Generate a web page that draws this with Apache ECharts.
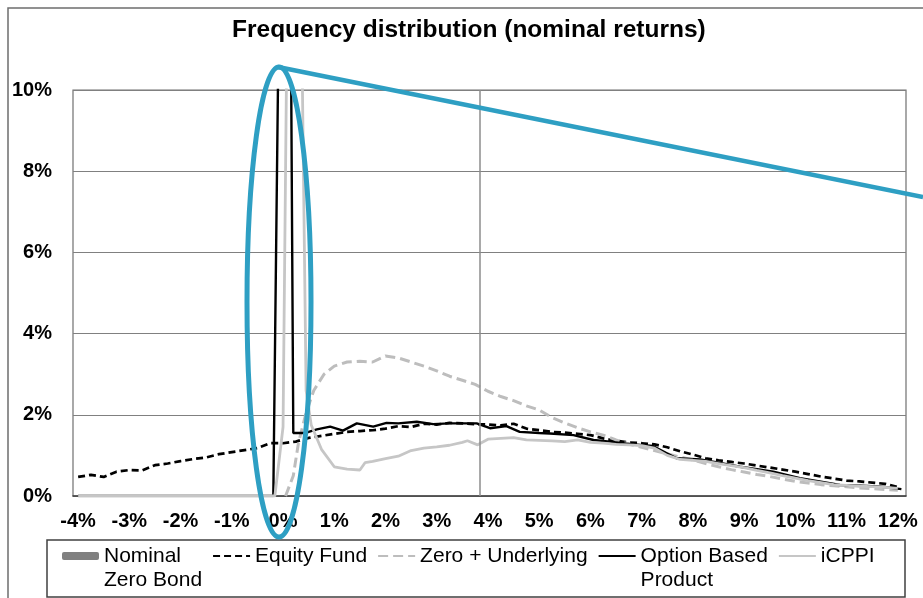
<!DOCTYPE html>
<html>
<head>
<meta charset="utf-8">
<title>Frequency distribution (nominal returns)</title>
<script src="https://cdn.jsdelivr.net/npm/echarts@6.0.0/dist/echarts.min.js"></script>
<style>
  html, body { margin: 0; padding: 0; background: #fff; }
  #chart { width: 923px; height: 598px; }
</style>
</head>
<body>
<div id="chart"></div>
<script>
// return buckets (%) used by the equity fund curve
var gridX = [-4, -3.75, -3.5, -3.25, -3, -2.75, -2.5, -2.25, -2, -1.75, -1.5, -1.25, -1, -0.75, -0.5, -0.25,
  0, 0.25, 0.5, 0.75, 1, 1.25, 1.5, 1.75, 2, 2.25, 2.5, 2.75, 3, 3.25, 3.5, 3.75, 4, 4.25, 4.5, 4.75,
  5, 5.25, 5.5, 5.75, 6, 6.25, 6.5, 6.75, 7, 7.25, 7.5, 7.75, 8, 8.25, 8.5, 8.75, 9, 9.25, 9.5, 9.75,
  10, 10.25, 10.5, 10.75, 11, 11.25, 11.5, 11.75, 12];

var equityFund = [0.47, 0.52, 0.47, 0.60, 0.64, 0.63, 0.76, 0.80, 0.86, 0.91,
  0.95, 1.03, 1.08, 1.13, 1.18, 1.30, 1.30, 1.34, 1.43, 1.48,
  1.53, 1.58, 1.60, 1.62, 1.66, 1.72, 1.70, 1.78, 1.76, 1.80,
  1.79, 1.77, 1.76, 1.74, 1.78, 1.66, 1.62, 1.58, 1.56, 1.53,
  1.50, 1.42, 1.36, 1.32, 1.30, 1.27, 1.20, 1.10, 1.02, 0.93,
  0.88, 0.84, 0.80, 0.75, 0.70, 0.65, 0.60, 0.54, 0.48, 0.43,
  0.38, 0.36, 0.33, 0.30, 0.22];

// zero + underlying
var zeroUndX = [0.05, 0.2, 0.3, 0.45, 0.6, 0.8, 1, 1.25, 1.5, 1.75, 2, 2.25, 2.5, 2.75, 3, 3.25, 3.5, 3.75,
  4, 4.25, 4.5, 4.75, 5, 5.25, 5.5, 5.75, 6, 6.25, 6.5, 6.75, 7, 7.25, 7.5, 7.75, 8, 8.25, 8.5, 8.75,
  9, 9.25, 9.5, 9.75, 10, 10.25, 10.5, 10.75, 11, 11.25, 11.5, 11.75, 12];
var zeroUndY = [0, 0.5, 1.3, 2.05, 2.6, 3.0, 3.2, 3.3, 3.32, 3.3, 3.45, 3.4, 3.3, 3.2, 3.08, 2.95, 2.85, 2.75,
  2.58, 2.45, 2.35, 2.22, 2.12, 1.93, 1.8, 1.68, 1.58, 1.5, 1.38, 1.28, 1.2, 1.12, 1.04, 0.96, 0.89, 0.8, 0.72, 0.65,
  0.59, 0.53, 0.48, 0.42, 0.36, 0.32, 0.28, 0.25, 0.23, 0.2, 0.18, 0.16, 0.14];

// option based product (spike runs off the top of the axis)
var optionX = [-4, -0.19, -0.10, -0.09, 0.15, 0.16, 0.20, 0.43, 0.50, 0.66, 0.92, 1.17, 1.44, 1.76, 2.02, 2.25,
  2.61, 2.93, 3.25, 3.50, 3.78, 4.04, 4.36, 4.62, 5.00, 5.21, 5.67, 6.06, 6.38, 6.70, 6.97, 7.22, 7.68,
  8.14, 8.50, 8.92, 9.25, 9.57, 10.09, 10.50, 10.87, 11.39, 11.75, 12.07];
var optionY = [0, 0, 10, 12, 12, 10, 1.55, 1.55, 1.58, 1.64, 1.71, 1.61, 1.79, 1.71, 1.80, 1.79,
  1.83, 1.77, 1.79, 1.79, 1.79, 1.67, 1.72, 1.58, 1.55, 1.54, 1.50, 1.38, 1.34, 1.29, 1.26, 1.23, 0.93,
  0.90, 0.82, 0.72, 0.66, 0.60, 0.44, 0.35, 0.27, 0.25, 0.22, 0.17];

// iCPPI
var icppiX = [-4, -0.16, 0, 0.08, 0.36, 0.45, 0.55, 0.75, 1, 1.25, 1.5, 1.6, 1.75, 2, 2.25, 2.5, 2.75, 3, 3.25,
  3.5, 3.6, 3.8, 4, 4.25, 4.5, 4.75, 5, 5.25, 5.5, 5.75, 6, 6.25, 6.5, 6.75, 7, 7.25, 7.5, 7.75, 8, 8.25,
  8.5, 8.75, 9, 9.25, 9.5, 9.75, 10, 10.25, 10.5, 10.75, 11, 11.25, 11.5, 11.75, 12];
var icppiY = [0, 0, 1.7, 12, 12, 2.6, 1.75, 1.15, 0.72, 0.66, 0.64, 0.82, 0.85, 0.92, 0.98, 1.12, 1.18, 1.21, 1.25,
  1.32, 1.36, 1.26, 1.40, 1.42, 1.44, 1.38, 1.37, 1.36, 1.34, 1.38, 1.32, 1.30, 1.27, 1.26, 1.24, 1.18, 1.00, 0.90, 0.88, 0.85,
  0.80, 0.75, 0.70, 0.63, 0.57, 0.50, 0.44, 0.38, 0.33, 0.28, 0.26, 0.24, 0.23, 0.21, 0.19];

var xTicks = [-4, -3, -2, -1, 0, 1, 2, 3, 4, 5, 6, 7, 8, 9, 10, 11, 12];
var gridLineX = 3.84;

function pairs(xs, ys) {
  return xs.map(function (x, i) { return [x, ys[i]]; });
}

var font = 'Liberation Sans, Arial, sans-serif';
var noDot = { color: 'rgba(0,0,0,0)' };
var chart = echarts.init(document.getElementById('chart'));
chart.setOption({
  animation: false,
  title: {
    text: 'Frequency distribution (nominal returns)',
    left: 232,
    top: 18,
    padding: 0,
    textStyle: { fontFamily: font, fontSize: 24.5, fontWeight: 'bold', color: '#000' }
  },
  grid: {
    left: 73, right: 17, top: 90, bottom: 102,
    show: true, borderColor: '#707070', borderWidth: 1.2
  },
  legend: {
    left: 62,
    top: 520,
    padding: 0,
    itemWidth: 37,
    itemHeight: 8,
    itemGap: 10,
    // first text line sits level with the legend key, second line below it
    formatter: function (name) {
      return ' \n' + (name.indexOf('\n') >= 0 ? name : name + '\n ');
    },
    textStyle: { fontFamily: font, fontSize: 21, color: '#000', lineHeight: 24 }
  },
  xAxis: {
    type: 'value',
    min: -4.1,
    max: 12.16,
    axisLine: { show: true, onZero: false, lineStyle: { color: '#404040', width: 1.5 } },
    axisTick: { show: false },
    splitLine: { show: false },
    axisLabel: {
      customValues: xTicks,
      formatter: function (v) { return v + '%'; },
      margin: 15,
      fontFamily: font, fontSize: 20, fontWeight: 'bold', color: '#000'
    }
  },
  yAxis: {
    type: 'value',
    min: 0, max: 10, interval: 2,
    axisLine: { show: false },
    axisTick: { show: false },
    splitLine: { lineStyle: { color: '#808080', width: 1.2 } },
    axisLabel: {
      formatter: '{value}%',
      margin: 21,
      fontFamily: font, fontSize: 20, fontWeight: 'bold', color: '#000'
    }
  },
  series: [
    {
      name: 'Nominal\nZero Bond',
      type: 'bar',
      itemStyle: { color: '#808080' },
      data: []
    },
    {
      name: 'Equity Fund',
      type: 'line',
      symbol: 'none',
      lineStyle: { color: '#000', width: 2.7, type: [7, 4] },
      itemStyle: noDot,
      data: pairs(gridX, equityFund),
      markLine: {
        silent: true,
        symbol: ['none', 'none'],
        label: { show: false },
        lineStyle: { color: '#8c8c8c', type: 'solid', width: 1.5 },
        data: [{ xAxis: gridLineX }]
      }
    },
    {
      name: 'Zero + Underlying',
      type: 'line',
      symbol: 'none',
      lineStyle: { color: '#bdbdbd', width: 3, type: [10, 5] },
      itemStyle: noDot,
      data: pairs(zeroUndX, zeroUndY)
    },
    {
      name: 'Option Based\nProduct',
      type: 'line',
      symbol: 'none',
      lineStyle: { color: '#000', width: 2.4 },
      itemStyle: noDot,
      data: pairs(optionX, optionY)
    },
    {
      name: 'iCPPI',
      type: 'line',
      symbol: 'none',
      lineStyle: { color: '#c6c6c6', width: 2.8 },
      itemStyle: noDot,
      data: pairs(icppiX, icppiY)
    }
  ],
  graphic: [
    // outer chart frame
    { type: 'rect', z: 0, shape: { x: 8, y: 8, width: 1000, height: 700 },
      style: { fill: 'none', stroke: '#6e6e6e', lineWidth: 1.5 } },
    // legend frame
    { type: 'rect', z: 0, shape: { x: 47, y: 540, width: 858, height: 57 },
      style: { fill: 'none', stroke: '#404040', lineWidth: 1.5 } },
    // highlight ellipse and pointer line
    { type: 'ellipse', z: 100, shape: { cx: 279, cy: 302, rx: 32, ry: 235 },
      style: { fill: 'none', stroke: '#2e9fc3', lineWidth: 5 } },
    { type: 'line', z: 100, shape: { x1: 278, y1: 67, x2: 923, y2: 197 },
      style: { stroke: '#2e9fc3', lineWidth: 4.5 } }
  ]
});
</script>
</body>
</html>
